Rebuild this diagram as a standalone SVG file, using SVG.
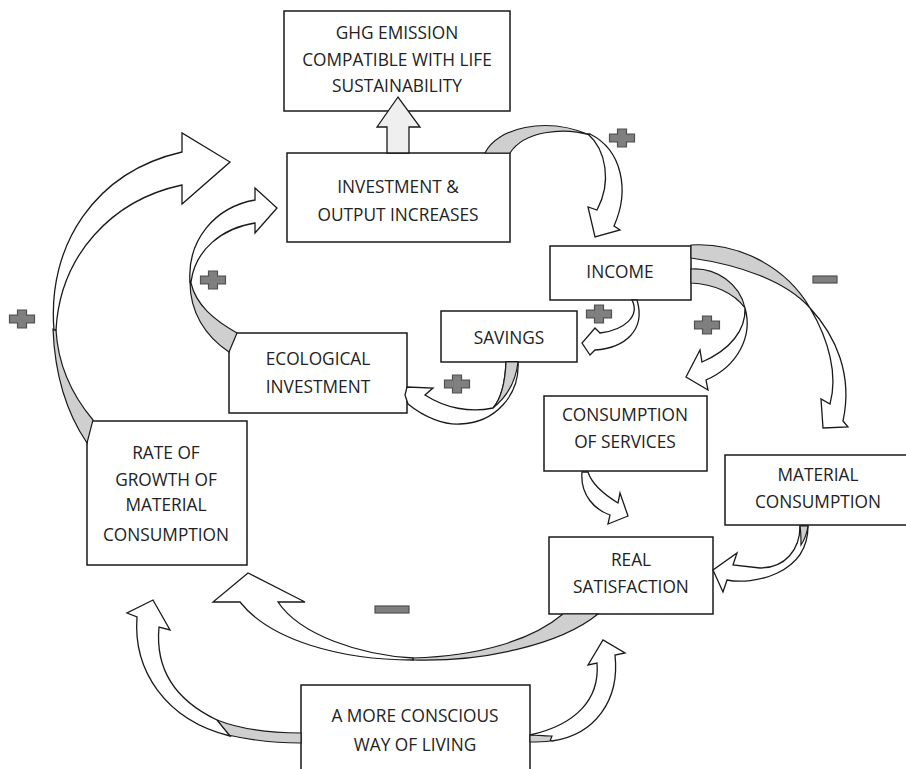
<svg xmlns="http://www.w3.org/2000/svg" xmlns:xlink="http://www.w3.org/1999/xlink" width="906" height="769" viewBox="0 0 906 769">
<style>
.box{fill:#fff;stroke:#1a1a1a;stroke-width:1.5}
.arr{fill:#fff;stroke:#1a1a1a;stroke-width:1.3;stroke-linejoin:miter}
.lens{fill:#cfcfcf;stroke:#1a1a1a;stroke-width:1.2}
.up{fill:#efefef;stroke:#1a1a1a;stroke-width:1.3}
.sign{fill:#7f7f7f;stroke:#505050;stroke-width:1.2}
text{font-family:"Open Sans","Liberation Sans",sans-serif;font-size:17.3px;fill:#222;text-anchor:middle}
</style>
<defs>
<path id="plus" class="sign" d="M-4.5,-9 H4.5 V-3.8 H12.5 V3.8 H4.5 V9 H-4.5 V3.8 H-12.5 V-3.8 H-4.5 Z"/>
</defs>
<rect width="906" height="769" fill="#fff"/>

<g id="ghg"><rect class="box" x="284" y="11" width="226" height="100"/>
<text x="397" y="39">GHG EMISSION</text><text x="397" y="66">COMPATIBLE WITH LIFE</text><text x="397" y="92">SUSTAINABILITY</text></g>
<g id="investment"><rect class="box" x="287" y="153" width="223" height="89"/>
<text x="398" y="193">INVESTMENT &amp;</text><text x="398" y="221">OUTPUT INCREASES</text></g>
<g id="income"><rect class="box" x="550" y="246" width="141" height="54"/>
<text x="620" y="278">INCOME</text></g>
<g id="savings"><rect class="box" x="441" y="311" width="136" height="51"/>
<text x="509" y="344">SAVINGS</text></g>
<g id="ecological"><rect class="box" x="229" y="333" width="178" height="80"/>
<text x="318" y="365">ECOLOGICAL</text><text x="318" y="393">INVESTMENT</text></g>
<g id="services"><rect class="box" x="544" y="396" width="163" height="75"/>
<text x="625" y="421">CONSUMPTION</text><text x="625" y="448">OF SERVICES</text></g>
<g id="material"><rect class="box" x="725" y="455" width="186" height="70"/>
<text x="818" y="481">MATERIAL</text><text x="818" y="508">CONSUMPTION</text></g>
<g id="satisfaction"><rect class="box" x="549" y="537" width="164" height="77"/>
<text x="631" y="566">REAL</text><text x="631" y="593">SATISFACTION</text></g>
<g id="rate"><rect class="box" x="87" y="421" width="160" height="144"/>
<text x="166" y="459">RATE OF</text><text x="166" y="486">GROWTH OF</text><text x="166" y="511">MATERIAL</text><text x="166" y="541">CONSUMPTION</text></g>
<g id="conscious"><rect class="box" x="301" y="685" width="229" height="100"/>
<text x="415" y="722">A MORE CONSCIOUS</text><text x="415" y="751">WAY OF LIVING</text></g>

<g id="connectors">
<path class="up" d="M387,153 V127 H377 L398,97 L420,127 H409 V153 Z"/>
<path class="lens" d="M53,329 C55,380 68,415 87,443 L93,420 C72,395 58,365 56,330 Z"/>
<path class="arr" d="M54,330 C47,245 95,172 182,152 L182,133 L230,162 L182,204 L182,185 C112,200 60,255 56,330 Z"/>
<path class="lens" d="M190,282 C190,312 205,336 229,352 L237,333 C214,320 196,305 191,283 Z"/>
<path class="arr" d="M190,282 C187,240 215,207 255,200 L255,188 L277,208 L255,233 L255,223 C222,228 195,250 191,282 Z"/>
<path class="lens" d="M485,153 C497,128 545,116 590,135 C563,127 524,131 510,153 Z"/>
<path class="arr" d="M588,134 C606,150 612,182 597,210 L588,207 L595,237 L620,230 L614,226 C630,190 622,150 590,134 Z"/>
<path class="lens" d="M691,245 C740,242 787,268 810,308 C786,281 740,265 691,258 Z"/>
<path class="arr" d="M810,308 C836,336 853,375 843,421 L848,427 L823,428 L821,399 L830,404 C838,375 829,340 810,308 Z"/>
<path class="lens" d="M691,269 C716,267 740,284 745,308 C734,293 714,284 691,283 Z"/>
<path class="arr" d="M745,308 C753,336 738,366 706,380 L708,390 L686,377 L700,350 L702,362 C730,350 746,330 745,308 Z"/>
<path class="arr" d="M632,300 C640,316 625,330 600,333 L595,328 L582,343 L590,355 L595,350 C625,348 646,330 637,300 Z"/>
<path class="arr" d="M506,362 C505,385 500,400 493,408 C470,413 445,408 425,395 L433,388 L407,387 L405,395 L408,404 C425,418 445,425 460,424 C495,423 520,395 518,362 Z"/>
<path class="lens" d="M506,362 C505,385 500,400 493,408 C508,396 516,380 518,362 Z"/>
<path class="arr" d="M582,472 C580,495 595,510 610,515 L608,524 L628,516 L620,493 L618,503 C605,495 592,485 588,472 Z"/>
<path class="arr" d="M800,526 C800,550 785,568 760,568 L733,565 L737,553 L713,570 L723,592 L727,580 C752,585 808,575 808,526 Z"/>
<path class="lens" d="M800,526 L808,526 C807,533 805,539 801,545 C801,538 801,532 800,526 Z"/>
<path class="lens" d="M413,658 C480,656 532,640 563,614 L598,614 C560,645 482,662 413,660 Z"/>
<path class="arr" d="M413,658 C360,655 300,635 278,602 L305,602 L248,573 L213,602 L240,602 C270,640 340,660 413,660 Z"/>
<path class="lens" d="M217,720 C245,731 275,733 301,733 L301,743 C272,743 250,740 228,735 Z"/>
<path class="arr" d="M217,720 C175,700 155,670 159,627 L170,630 L153,600 L127,613 L137,617 C133,670 165,720 230,736 Z"/>
<path class="arr" d="M530,735 C575,725 600,700 597,663 L588,665 L603,640 L625,653 L615,655 C620,700 595,735 552,741 Z"/>
<path class="lens" d="M530,735 C538,735 546,736 552,736 L550,741 C543,742 536,742 530,742 Z"/>
</g>

<g id="signs">
<use xlink:href="#plus" x="622" y="138"/>
<use xlink:href="#plus" x="22" y="319"/>
<use xlink:href="#plus" x="213" y="280"/>
<use xlink:href="#plus" x="599" y="314"/>
<use xlink:href="#plus" x="707" y="325"/>
<use xlink:href="#plus" x="457" y="384"/>
<rect class="sign" x="813" y="276" width="24" height="7"/>
<rect class="sign" x="375" y="606" width="34" height="7"/>
</g>
</svg>
